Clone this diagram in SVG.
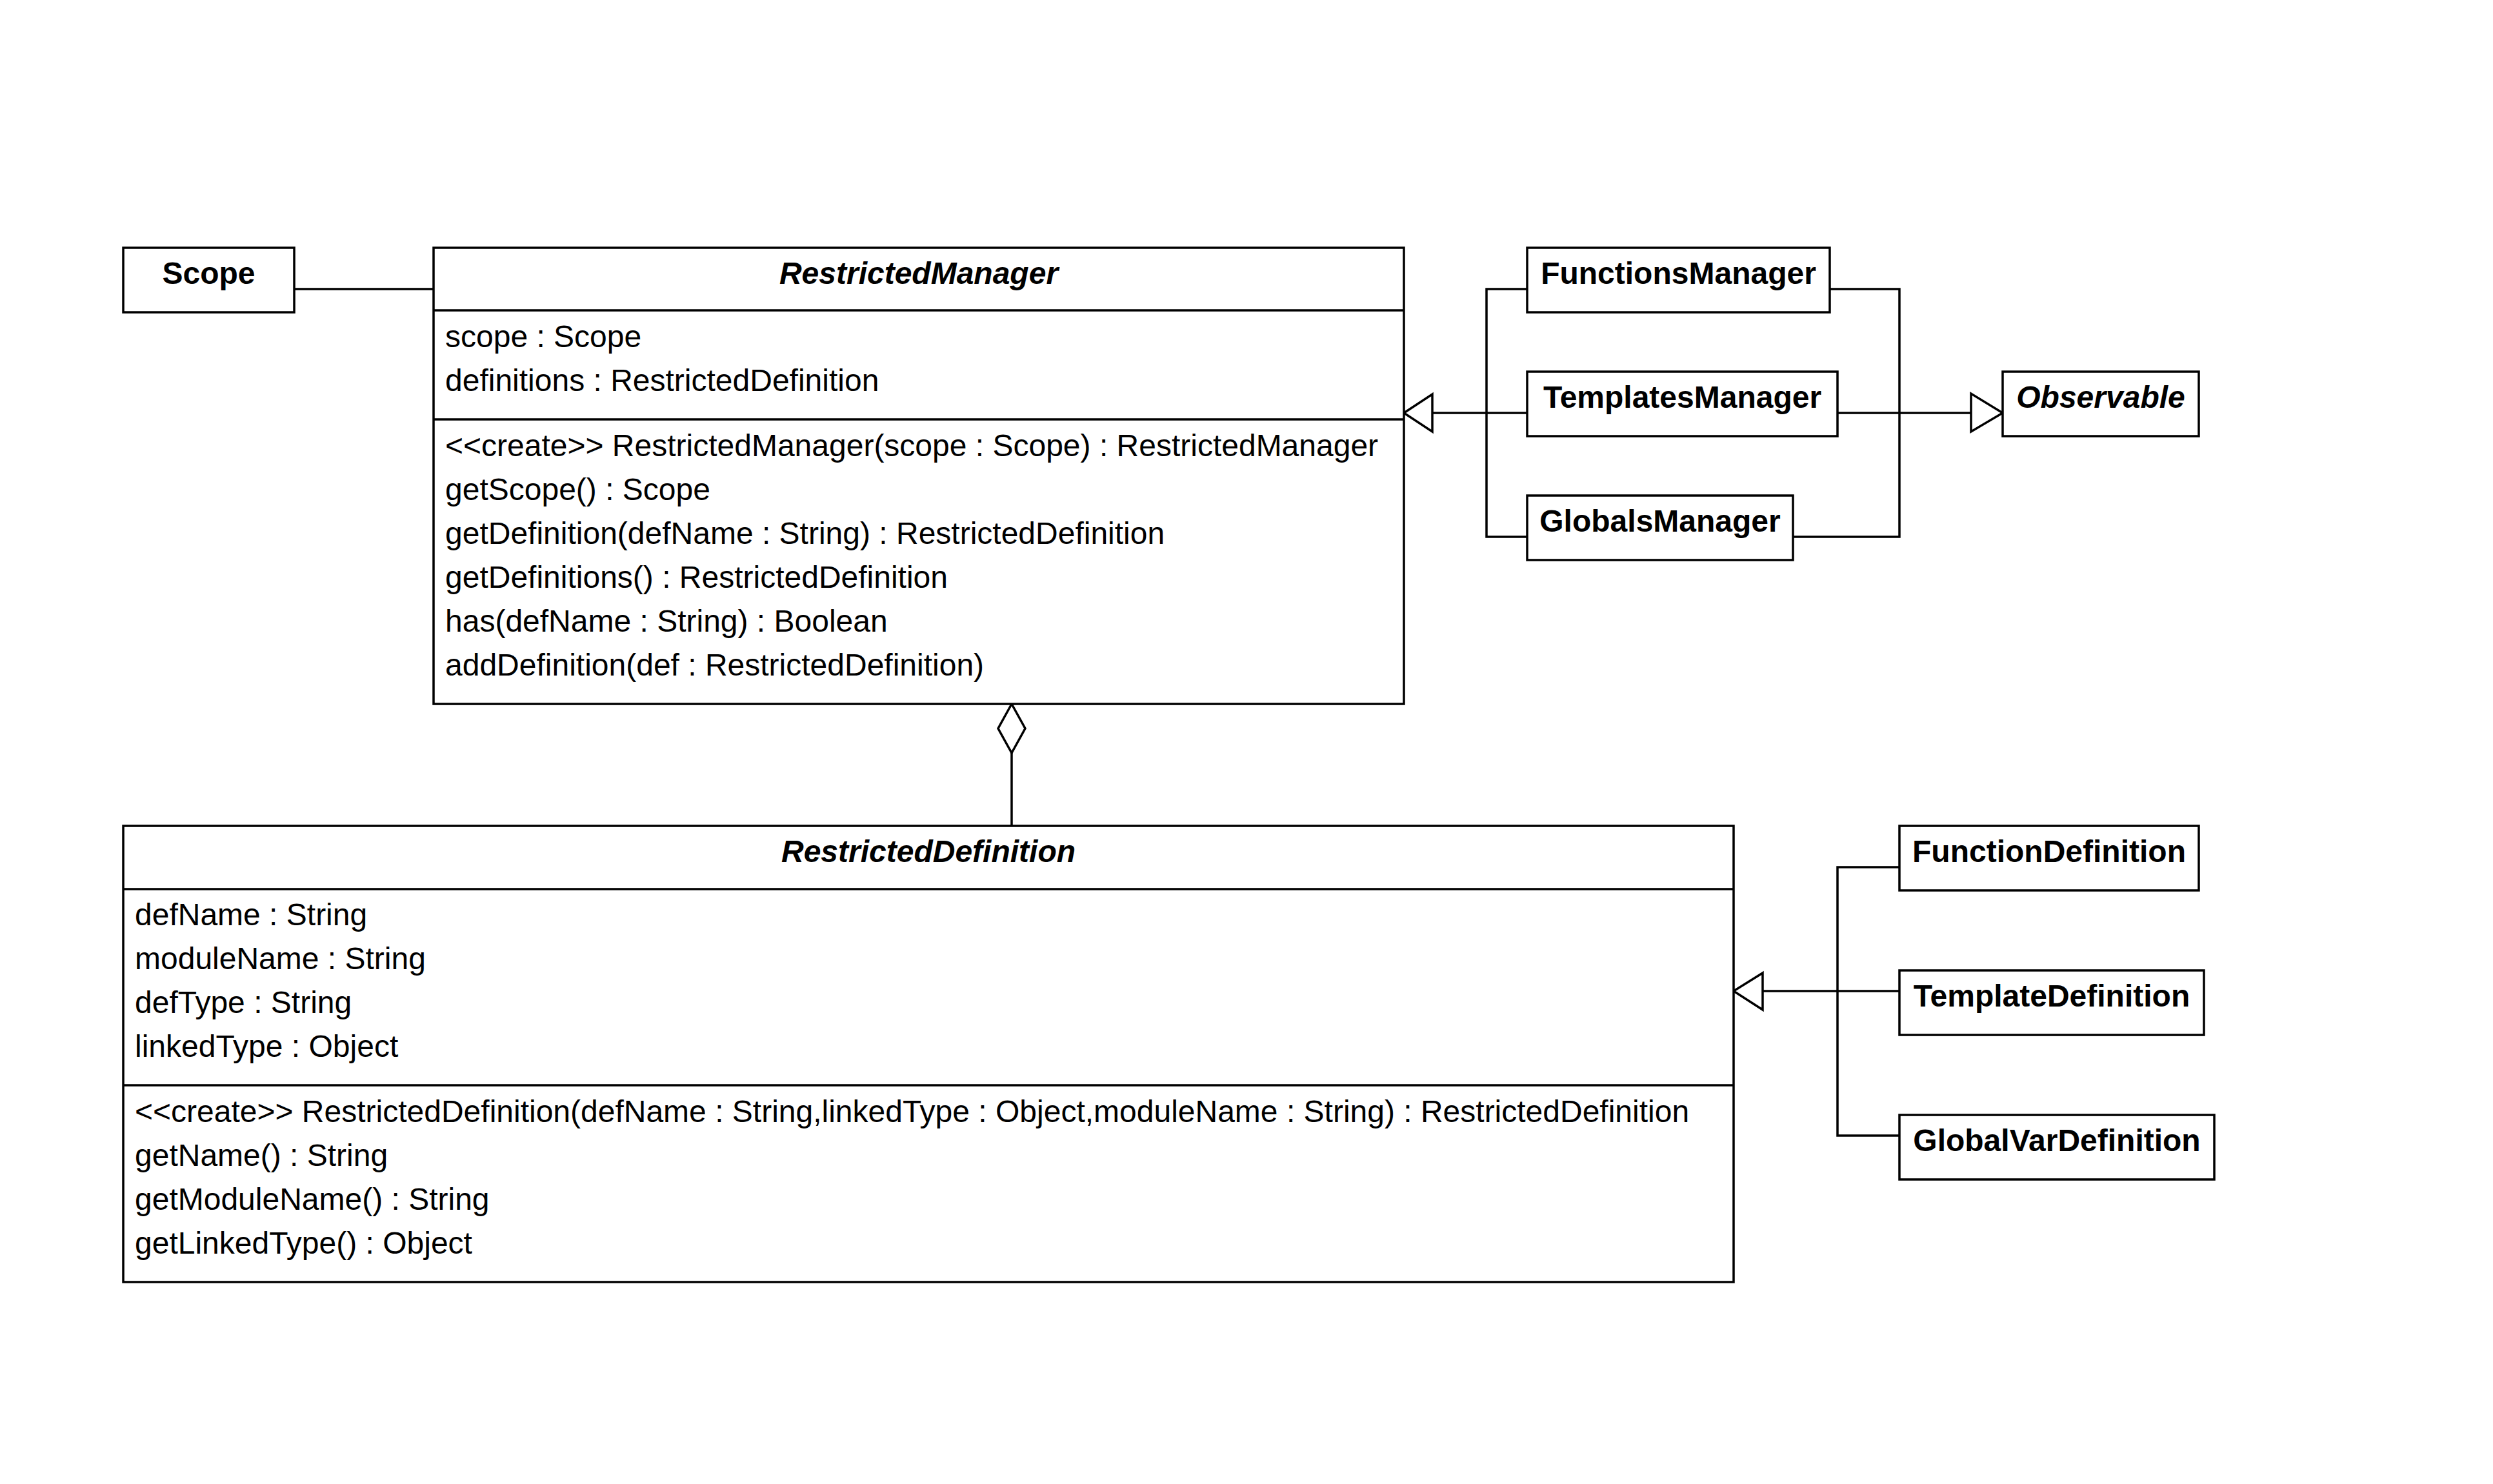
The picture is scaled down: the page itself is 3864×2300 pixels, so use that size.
<svg xmlns="http://www.w3.org/2000/svg" width="3864" height="2300" viewBox="0 0 3864 2300">
<style>
.box{fill:#fff;stroke:#000;stroke-width:3.5}
.ln{fill:none;stroke:#000;stroke-width:3.5}
.head{fill:#fff;stroke:#000;stroke-width:3.5;stroke-linejoin:miter}
text{font-family:"Liberation Sans",Arial,sans-serif;font-size:48px;fill:#000}
.t{font-weight:bold;text-anchor:middle}
.ti{font-weight:bold;font-style:italic;text-anchor:middle}
</style>
<rect x="0" y="0" width="3864" height="2300" fill="#fff"/>
<g id="connectors">
  <line class="ln" x1="456" y1="448" x2="672" y2="448"/>
  <polyline class="ln" points="2367,448 2304,448 2304,832 2367,832"/>
  <line class="ln" x1="2220" y1="640" x2="2367" y2="640"/>
  <polygon class="head" points="2176,640 2220,611 2220,669"/>
  <polyline class="ln" points="2836,448 2944,448 2944,832 2779,832"/>
  <line class="ln" x1="2848" y1="640" x2="3055" y2="640"/>
  <polygon class="head" points="3104,640 3055,610 3055,669"/>
  <line class="ln" x1="1568" y1="1167" x2="1568" y2="1280"/>
  <polygon class="head" points="1568,1091 1589,1129 1568,1167 1547,1129"/>
  <polyline class="ln" points="2944,1344 2848,1344 2848,1760 2944,1760"/>
  <line class="ln" x1="2732" y1="1536" x2="2944" y2="1536"/>
  <polygon class="head" points="2687,1536 2732,1508 2732,1565"/>
</g>
<g id="Scope">
  <rect class="box" x="191" y="384" width="265" height="100"/>
  <text class="t" x="323.5" y="440">Scope</text>
</g>
<g id="RestrictedManager">
  <rect class="box" x="672" y="384" width="1504" height="707"/>
  <line class="ln" x1="672" y1="481" x2="2176" y2="481"/>
  <line class="ln" x1="672" y1="650" x2="2176" y2="650"/>
  <text class="ti" x="1424" y="440">RestrictedManager</text>
  <text x="690" y="538">scope : Scope</text>
  <text x="690" y="606">definitions : RestrictedDefinition</text>
  <text x="690" y="707">&lt;&lt;create&gt;&gt; RestrictedManager(scope : Scope) : RestrictedManager</text>
  <text x="690" y="775">getScope() : Scope</text>
  <text x="690" y="843">getDefinition(defName : String) : RestrictedDefinition</text>
  <text x="690" y="911">getDefinitions() : RestrictedDefinition</text>
  <text x="690" y="979">has(defName : String) : Boolean</text>
  <text x="690" y="1047">addDefinition(def : RestrictedDefinition)</text>
</g>
<g id="FunctionsManager">
  <rect class="box" x="2367" y="384" width="469" height="100"/>
  <text class="t" x="2601.5" y="440">FunctionsManager</text>
</g>
<g id="TemplatesManager">
  <rect class="box" x="2367" y="576" width="481" height="100"/>
  <text class="t" x="2607.5" y="632">TemplatesManager</text>
</g>
<g id="GlobalsManager">
  <rect class="box" x="2367" y="768" width="412" height="100"/>
  <text class="t" x="2573" y="824">GlobalsManager</text>
</g>
<g id="Observable">
  <rect class="box" x="3104" y="576" width="304" height="100"/>
  <text class="ti" x="3256" y="632">Observable</text>
</g>
<g id="RestrictedDefinition">
  <rect class="box" x="191" y="1280" width="2496" height="707"/>
  <line class="ln" x1="191" y1="1378" x2="2687" y2="1378"/>
  <line class="ln" x1="191" y1="1682" x2="2687" y2="1682"/>
  <text class="ti" x="1439" y="1336">RestrictedDefinition</text>
  <text x="209" y="1434">defName : String</text>
  <text x="209" y="1502">moduleName : String</text>
  <text x="209" y="1570">defType : String</text>
  <text x="209" y="1638">linkedType : Object</text>
  <text x="209" y="1739">&lt;&lt;create&gt;&gt; RestrictedDefinition(defName : String,linkedType : Object,moduleName : String) : RestrictedDefinition</text>
  <text x="209" y="1807">getName() : String</text>
  <text x="209" y="1875">getModuleName() : String</text>
  <text x="209" y="1943">getLinkedType() : Object</text>
</g>
<g id="FunctionDefinition">
  <rect class="box" x="2944" y="1280" width="464" height="100"/>
  <text class="t" x="3176" y="1336">FunctionDefinition</text>
</g>
<g id="TemplateDefinition">
  <rect class="box" x="2944" y="1504" width="472" height="100"/>
  <text class="t" x="3180" y="1560">TemplateDefinition</text>
</g>
<g id="GlobalVarDefinition">
  <rect class="box" x="2944" y="1728" width="488" height="100"/>
  <text class="t" x="3188" y="1784">GlobalVarDefinition</text>
</g>
</svg>
